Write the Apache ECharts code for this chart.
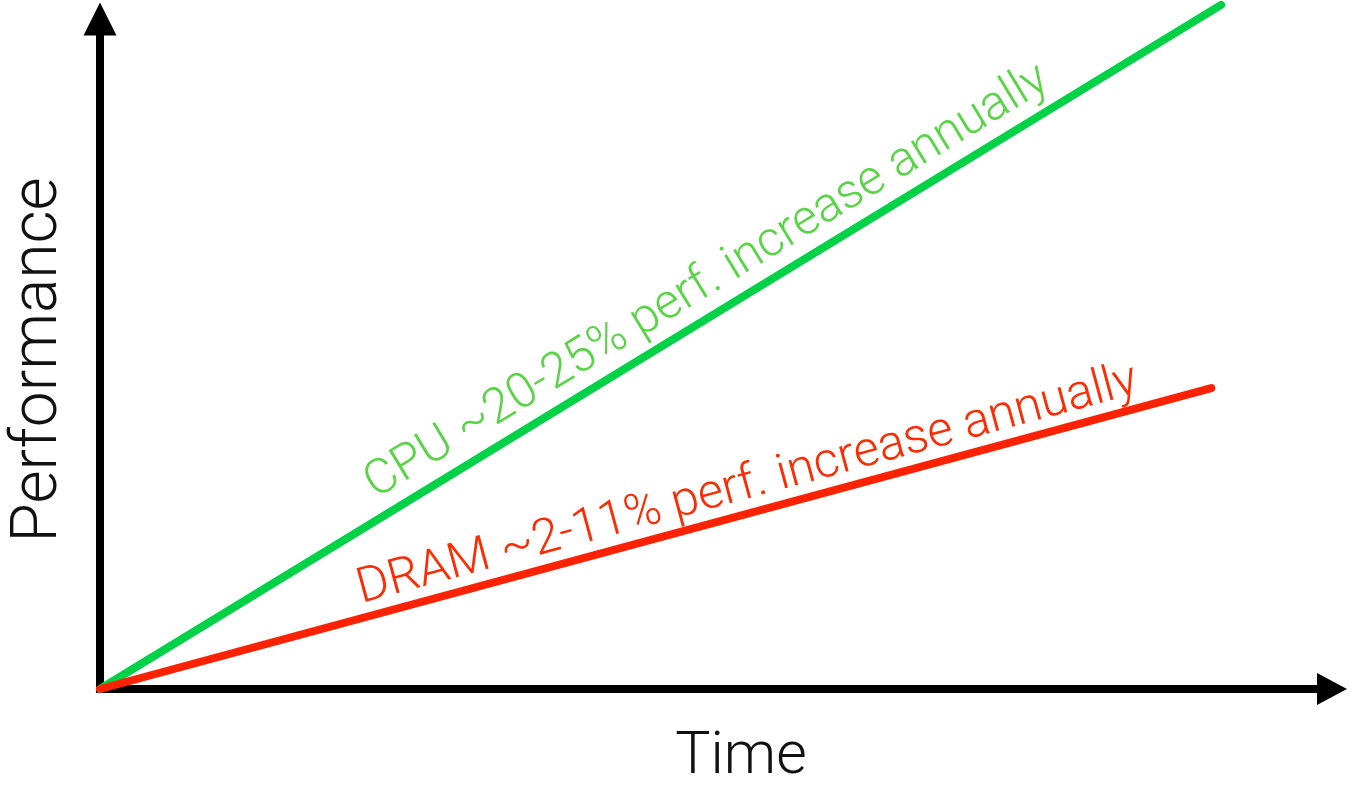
<!DOCTYPE html>
<html><head><meta charset="utf-8">
<script src="https://cdn.jsdelivr.net/npm/echarts@6/dist/echarts.min.js"></script>
<style>html,body{margin:0;padding:0;background:#fff}#c{width:1349px;height:793px}</style>
</head><body><div id="c"></div>
<script>
// ---- data ----
const seriesNames = ['CPU', 'DRAM'];
const cpuLine = [[0, 0], [9.10, 10.21]];
const dramLine = [[0, 0], [9.02, 4.49]];
const cpuLabel = 'CPU ~20-25% perf. increase annually';
const dramLabel = 'DRAM ~2-11% perf. increase annually';
const xAxisName = 'Time';
const yAxisName = 'Performance';
const xRange = [0, 10];
const yRange = [0, 10];

// ---- styles ----
const FONT = "Roboto, 'Liberation Sans', Arial, sans-serif";
const lineColors = ['#00d247', '#ff2200'];
const textColors = ['#5ad447', '#ff2a00'];

const chart = echarts.init(document.getElementById('c'), null, {renderer: 'canvas'});

function axisCommon(name, arrowSize, gap, rotate, fontSize, padding) {
  return {
    type: 'value',
    name: name,
    nameLocation: 'middle',
    nameGap: gap,
    nameRotate: rotate,
    nameTextStyle: {color: '#111', fontSize: fontSize, fontFamily: FONT, fontWeight: 300, padding: padding},
    axisLine: {
      show: true, onZero: false,
      symbol: ['none', 'triangle'],
      symbolSize: arrowSize,
      lineStyle: {color: '#000', width: 8, cap: 'square'}
    },
    axisTick: {show: false},
    axisLabel: {show: false},
    splitLine: {show: false}
  };
}

const xAxis = axisCommon(xAxisName, [32, 30], 40, 0, 59, [0, 0, 0, 50]);
xAxis.min = xRange[0]; xAxis.max = xRange[1];
const yAxis = axisCommon(yAxisName, [33, 33], 28, 90, 64, [0, 12, 0, 0]);
yAxis.min = yRange[0]; yAxis.max = yRange[1];

chart.setOption({
  animation: false,
  backgroundColor: '#fff',
  grid: {left: 92, right: 17, top: 19, bottom: 104, containLabel: false},
  xAxis: xAxis,
  yAxis: yAxis,
  series: [
    {name: seriesNames[0], type: 'line', data: cpuLine, symbol: 'none', clip: false, z: 3,
     lineStyle: {color: lineColors[0], width: 8, cap: 'round'}},
    {name: seriesNames[1], type: 'line', data: dramLine, symbol: 'none', clip: false, z: 3,
     lineStyle: {color: lineColors[1], width: 8, cap: 'round'}}
  ]
});

// rotated labels placed along each line
function labelFor(line, text, color, t, d, fontSize) {
  const p0 = chart.convertToPixel({xAxisIndex: 0, yAxisIndex: 0}, line[0]);
  const p1 = chart.convertToPixel({xAxisIndex: 0, yAxisIndex: 0}, line[line.length - 1]);
  const dx = p1[0] - p0[0], dy = p1[1] - p0[1];
  const len = Math.hypot(dx, dy);
  const ux = dx / len, uy = dy / len;
  const nx = uy, ny = -ux;
  const cx = p0[0] + dx * t + nx * d;
  const cy = p0[1] + dy * t + ny * d;
  return {
    type: 'text', x: cx, y: cy, rotation: Math.atan2(-dy, dx), z: 10,
    style: {text: text, fill: color, fontSize: fontSize, fontFamily: FONT, fontWeight: 300,
            align: 'center', verticalAlign: 'middle'}
  };
}

chart.setOption({
  graphic: [
    labelFor(cpuLine, cpuLabel, textColors[0], 0.556, 31, 49),
    labelFor(dramLine, dramLabel, textColors[1], 0.589, 27, 49)
  ]
});
</script>
</body></html>
